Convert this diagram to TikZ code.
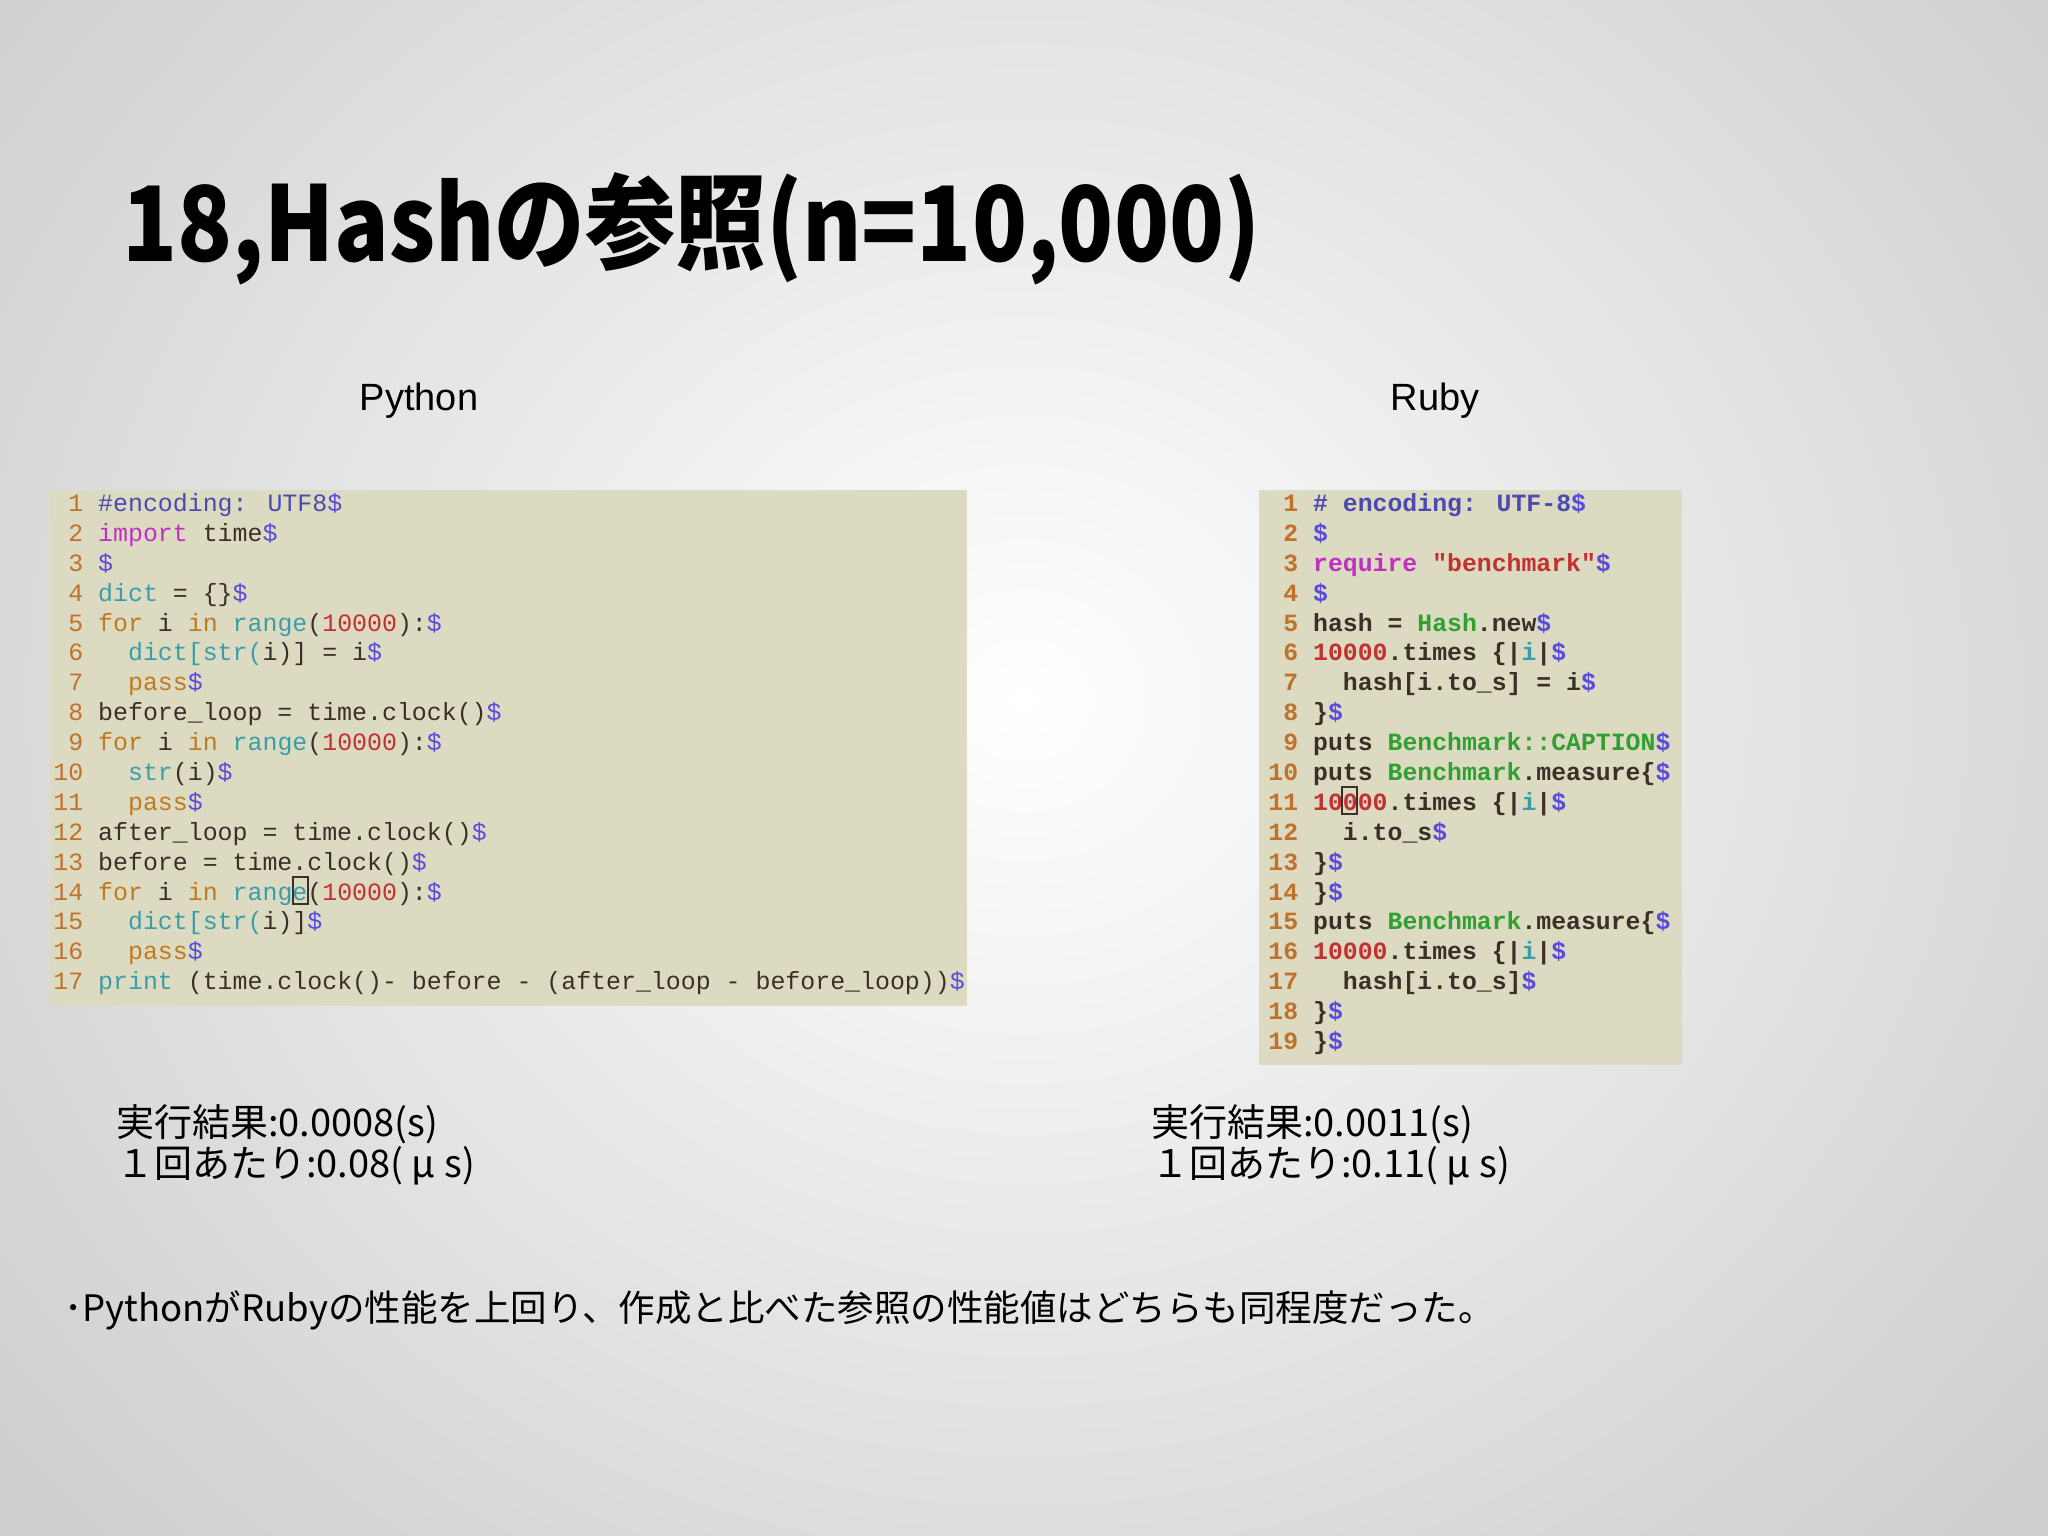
\documentclass[tikz,border=0pt]{standalone}
\usepackage{fontspec}
\newfontfamily\cjk{Noto Sans CJK JP}
\newfontfamily\code{Liberation Mono}
\setmainfont{Liberation Sans}
\definecolor{boxbg}{HTML}{DDDAC2}
\definecolor{cnum}{HTML}{C0722A}
\definecolor{cdol}{HTML}{5A4BE0}
\definecolor{cteal}{HTML}{3A9EA8}
\definecolor{cred}{HTML}{C23030}
\definecolor{cmag}{HTML}{C030C0}
\definecolor{ckw}{HTML}{C07A20}
\definecolor{ctxt}{HTML}{3A3028}
\definecolor{cgreen}{HTML}{30A030}
\definecolor{ccom}{HTML}{4A4AB0}
\newcommand\D{\textcolor{cdol}{\$}}
\newcommand\K[1]{\textcolor{ckw}{#1}}
\newcommand\F[1]{\textcolor{cteal}{#1}}
\newcommand\R[1]{\textcolor{cred}{#1}}
\newcommand\M[1]{\textcolor{cmag}{#1}}
\newcommand\G[1]{\textcolor{cgreen}{#1}}
\newcommand\Cm[1]{\textcolor{ccom}{#1}}
\newcommand\LN[1]{\makebox[30pt][r]{\textcolor{cnum}{#1}}\hspace*{15pt}}
\tikzset{
  pyline/.style={anchor=base west,inner sep=0pt,font=\code\fontsize{24.9}{28}\selectfont,text=ctxt},
  rbline/.style={anchor=base west,inner sep=0pt,font=\code\bfseries\fontsize{24.8}{28}\selectfont,text=ctxt},
  lbl/.style={inner sep=0pt,font=\fontsize{38}{44}\selectfont},
  res/.style={anchor=west,inner sep=0pt,font=\cjk\fontsize{38}{41}\selectfont,align=left},
}
\begin{document}
\begin{tikzpicture}[x=1pt,y=-1pt]
\useasboundingbox (0,0) rectangle (2048,1536);
\shade[inner color=white,outer color=gray!38] (-300,-500) rectangle (2348,1900);
\node[anchor=base west,inner sep=0pt,xscale=0.87,font=\cjk\bfseries\fontsize{104}{110}\selectfont] (title) at (122,261) {18,Hashの参照(n=10,000)};
\node[lbl] (py) at (419,401) {Python};
\node[lbl] (rb) at (1435,401) {Ruby};
\fill[boxbg] (50,490) rectangle (967,1006);
\fill[boxbg] (1259,490) rectangle (1682,1065);
% python
\node[pyline] (p1) at (53,511) {\LN{1}\Cm{\#encoding: UTF8}\D};
\node[pyline] (p2) at (53,541) {\LN{2}\M{import} time\D};
\node[pyline] (p3) at (53,571) {\LN{3}\D};
\node[pyline] (p4) at (53,601) {\LN{4}\F{dict} = \{\}\D};
\node[pyline] (p5) at (53,631) {\LN{5}\K{for} i \K{in} \F{range}(\R{10000}):\D};
\node[pyline] (p6) at (53,660) {\LN{6}\ \ \F{dict[str(}i)] = i\D};
\node[pyline] (p7) at (53,690) {\LN{7}\ \ \K{pass}\D};
\node[pyline] (p8) at (53,720) {\LN{8}before\_loop = time.clock()\D};
\node[pyline] (p9) at (53,750) {\LN{9}\K{for} i \K{in} \F{range}(\R{10000}):\D};
\node[pyline] (p10) at (53,780) {\LN{10}\ \ \F{str}(i)\D};
\node[pyline] (p11) at (53,810) {\LN{11}\ \ \K{pass}\D};
\node[pyline] (p12) at (53,840) {\LN{12}after\_loop = time.clock()\D};
\node[pyline] (p13) at (53,870) {\LN{13}before = time.clock()\D};
\node[pyline] (p14) at (53,900) {\LN{14}\K{for} i \K{in} \F{range}(\R{10000}):\D};
\node[pyline] (p15) at (53,929) {\LN{15}\ \ \F{dict[str(}i)]\D};
\node[pyline] (p16) at (53,959) {\LN{16}\ \ \K{pass}\D};
\node[pyline] (p17) at (53,989) {\LN{17}\F{print} (time.clock()- before - (after\_loop - before\_loop))\D};
\draw[ctxt,line width=1.2pt] (293,877) rectangle (308,904);
% ruby
\node[rbline] (r1) at (1268,511) {\LN{1}\Cm{\# encoding: UTF-8}\D};
\node[rbline] (r2) at (1268,541) {\LN{2}\D};
\node[rbline] (r3) at (1268,571) {\LN{3}\M{require} \R{"benchmark"}\D};
\node[rbline] (r4) at (1268,601) {\LN{4}\D};
\node[rbline] (r5) at (1268,631) {\LN{5}hash = \G{Hash}.new\D};
\node[rbline] (r6) at (1268,660) {\LN{6}\R{10000}.times \{|\F{i}|\D};
\node[rbline] (r7) at (1268,690) {\LN{7}\ \ hash[i.to\_s] = i\D};
\node[rbline] (r8) at (1268,720) {\LN{8}\}\D};
\node[rbline] (r9) at (1268,750) {\LN{9}puts \G{Benchmark::CAPTION}\D};
\node[rbline] (r10) at (1268,780) {\LN{10}puts \G{Benchmark}.measure\{\D};
\node[rbline] (r11) at (1268,810) {\LN{11}\R{10000}.times \{|\F{i}|\D};
\node[rbline] (r12) at (1268,840) {\LN{12}\ \ i.to\_s\D};
\node[rbline] (r13) at (1268,870) {\LN{13}\}\D};
\node[rbline] (r14) at (1268,900) {\LN{14}\}\D};
\node[rbline] (r15) at (1268,929) {\LN{15}puts \G{Benchmark}.measure\{\D};
\node[rbline] (r16) at (1268,959) {\LN{16}\R{10000}.times \{|\F{i}|\D};
\node[rbline] (r17) at (1268,989) {\LN{17}\ \ hash[i.to\_s]\D};
\node[rbline] (r18) at (1268,1019) {\LN{18}\}\D};
\node[rbline] (r19) at (1268,1049) {\LN{19}\}\D};
\draw[ctxt,line width=1.2pt] (1342,787) rectangle (1357,814);
% results
\node[res] (pres) at (116,1145) {実行結果:0.0008(s)\\１回あたり:0.08( μ s)};
\node[res] (rres) at (1151,1145) {実行結果:0.0011(s)\\１回あたり:0.11( μ s)};
\node[anchor=west,inner sep=0pt,font=\cjk\fontsize{36.5}{40}\selectfont] (note) at (64,1310) {･PythonがRubyの性能を上回り、作成と比べた参照の性能値はどちらも同程度だった。};
\end{tikzpicture}
\end{document}
